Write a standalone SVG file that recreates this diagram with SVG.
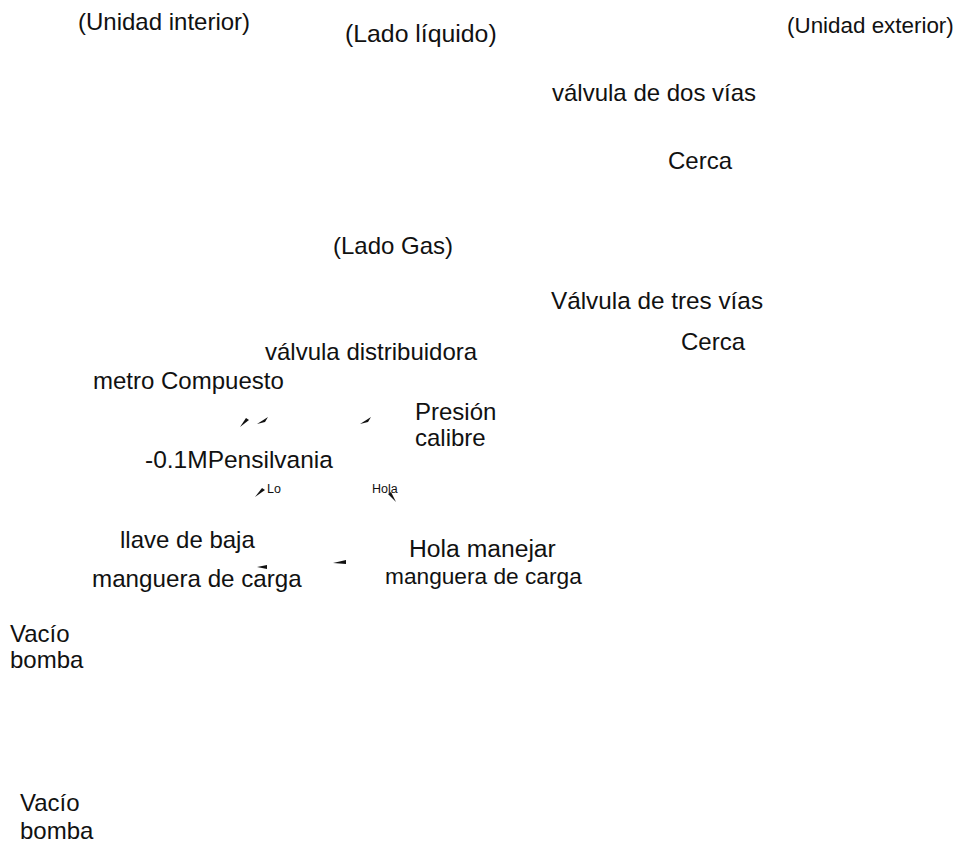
<svg xmlns="http://www.w3.org/2000/svg" width="965" height="843" viewBox="0 0 965 843">
  <style>
    text { font-family: "Liberation Sans", Arial, sans-serif; font-size: 24px; fill: #111; }
    .small { font-size: 12.5px; }
    .tip { fill: #111; }
  </style>
  <rect width="965" height="843" fill="#fff"/>

  <g id="labels">
    <text x="78" y="30">(Unidad interior)</text>
    <text x="345" y="42" style="font-size:24.8px">(Lado líquido)</text>
    <text x="787" y="33" style="font-size:22.4px">(Unidad exterior)</text>
    <text x="552" y="101">válvula de dos vías</text>
    <text x="668" y="169">Cerca</text>
    <text x="333" y="254">(Lado Gas)</text>
    <text x="551" y="309" style="font-size:24.3px">Válvula de tres vías</text>
    <text x="681" y="350">Cerca</text>
    <text x="265" y="360">válvula distribuidora</text>
    <text x="93" y="389">metro Compuesto</text>
    <text x="415" y="420">Presión</text>
    <text x="415" y="446">calibre</text>
    <text x="145" y="468" style="font-size:24.5px">-0.1MPensilvania</text>
    <text class="small" x="267" y="493">Lo</text>
    <text class="small" x="372" y="493">Hola</text>
    <text x="120" y="548">llave de baja</text>
    <text x="409" y="557" style="font-size:24.7px">Hola manejar</text>
    <text x="385" y="584" style="font-size:22.7px">manguera de carga</text>
    <text x="92" y="587" style="font-size:24.2px">manguera de carga</text>
    <text x="10" y="642">Vacío</text>
    <text x="10" y="668">bomba</text>
    <text x="20" y="811">Vacío</text>
    <text x="20" y="839">bomba</text>
  </g>

  <!-- leader arrowheads (their lines are not drawn) -->
  <g id="connectors" class="tip">
    <polygon points="240,427 246,418 249,420"/>
    <polygon points="257,424 268,417 265,422"/>
    <polygon points="360,424 371,417 368,422"/>
    <polygon points="255,497 262,488 265,490"/>
    <polygon points="396,502 388,494 391,492"/>
    <polygon points="257,567 267,565 267,569"/>
    <polygon points="346,560 346,564 333,563"/>
  </g>
</svg>
